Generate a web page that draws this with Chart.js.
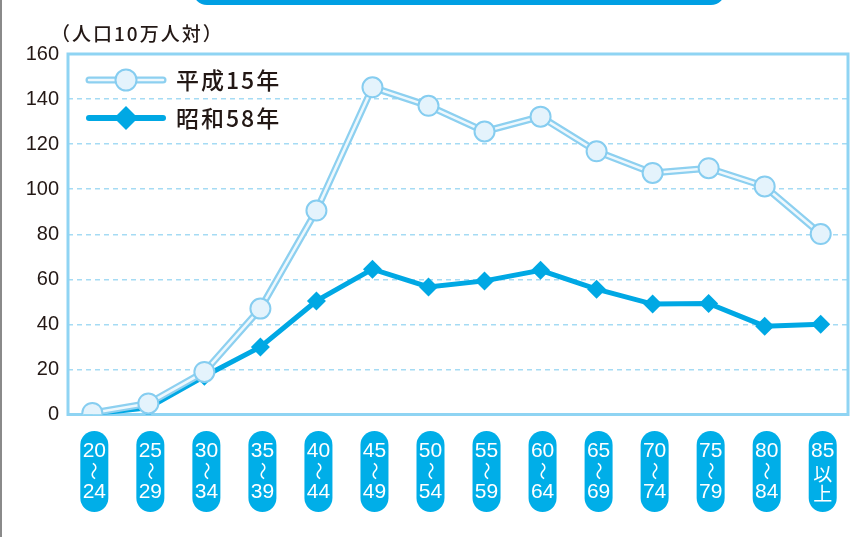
<!DOCTYPE html>
<html><head><meta charset="utf-8">
<script src="https://cdn.jsdelivr.net/npm/chart.js@4.4.1/dist/chart.umd.min.js"></script>
<style>
html,body{margin:0;padding:0;background:#fff;overflow:hidden}
#wrap{position:relative;width:851px;height:537px}
#banner{position:absolute;left:193px;top:-20px;width:532px;height:25px;background:#009fe3;border-radius:0 0 14px 14px}
#edge{position:absolute;left:0;top:0;width:2px;height:537px;background:#8a8a8a}
canvas{position:absolute;left:0;top:0}
</style></head><body>
<div id="wrap"><canvas id="c" width="851" height="537"></canvas><div id="banner"></div><div id="edge"></div></div>
<script>
// ---- data ----
const ageGroups = ['20〜24','25〜29','30〜34','35〜39','40〜44','45〜49','50〜54','55〜59','60〜64','65〜69','70〜74','75〜79','80〜84','85以上'];
const seriesNames = ['平成15年','昭和58年'];
const heisei15 = [0.7, 4.9, 18.9, 47.0, 90.5, 145.2, 137.0, 125.6, 132.2, 116.8, 107.2, 109.3, 101.2, 80.1];
const showa58  = [0.3, 3.0, 17.0, 30.0, 50.4, 64.5, 56.6, 59.3, 64.0, 55.6, 49.0, 49.3, 39.2, 40.1];
const yTicks = [0, 20, 40, 60, 80, 100, 120, 140, 160];
const yTitle = '（人口10万人対）';

const C_H_OUT = '#8dd0f0', C_H_IN = '#eef8fd', C_H_PT = '#e4f3fc', C_H_PTB = '#86cdf0';
const C_S = '#00a8e4', C_PILL = '#00aee8', C_TXT = '#231815';

const pts = arr => arr.map((v, i) => ({x: i, y: v}));

const frame = {
  id: 'frame',
  beforeDatasetsDraw(chart) {
    const {ctx, chartArea: a} = chart;
    ctx.save();
    ctx.strokeStyle = '#8fd4f3';
    ctx.lineWidth = 3;
    ctx.strokeRect(a.left, a.top, a.right - a.left, a.bottom - a.top);
    ctx.restore();
  }
};

function pill(ctx, x, y, w, h, r) {
  ctx.beginPath();
  if (ctx.roundRect) ctx.roundRect(x, y, w, h, r);
  else {
    ctx.moveTo(x + r, y); ctx.arc(x + r, y + r, r, Math.PI, 0);
    ctx.lineTo(x + w, y + h - r); ctx.arc(x + r, y + h - r, r, 0, Math.PI); ctx.closePath();
  }
  ctx.fill();
}

const deco = {
  id: 'deco',
  afterDraw(chart) {
    const {ctx} = chart;
    const xs = chart.scales.x;
    ctx.save();
    // y axis title
    ctx.fillStyle = C_TXT;
    ctx.font = '500 19px "Noto Sans CJK JP"';
    ctx.textBaseline = 'middle';
    ctx.textAlign = 'left';
    if ('letterSpacing' in ctx) ctx.letterSpacing = '2px';
    ctx.fillText(yTitle, 51, 34);
    if ('letterSpacing' in ctx) ctx.letterSpacing = '0px';

    // category pills
    ageGroups.forEach((g, i) => {
      const cx = xs.getPixelForValue(i) + 2;
      ctx.fillStyle = C_PILL;
      pill(ctx, cx - 14, 431, 28, 81, 14);
      ctx.fillStyle = '#fff';
      ctx.textAlign = 'center';
      ctx.textBaseline = 'middle';
      let parts;
      if (g.includes('〜')) parts = [g.split('〜')[0], '〜', g.split('〜')[1]];
      else parts = [g.slice(0, 2), g.slice(2, 3), g.slice(3)];
      ctx.font = '21px "Liberation Sans Narrow", "Liberation Sans"';
      ctx.fillText(parts[0], cx, 451);
      if (parts[1] === '〜') {
        ctx.save();
        ctx.translate(cx, 471);
        ctx.rotate(Math.PI / 2);
        ctx.font = '18px "Noto Sans CJK JP"';
        ctx.fillText('〜', 0, 0);
        ctx.restore();
        ctx.font = '21px "Liberation Sans Narrow", "Liberation Sans"';
        ctx.fillText(parts[2], cx, 492);
      } else {
        ctx.font = '19px "Noto Sans CJK JP"';
        ctx.fillText(parts[1], cx, 474);
        ctx.fillText(parts[2], cx, 494);
      }
    });

    // legend
    const ds = chart.data.datasets;
    ctx.lineCap = 'round';
    ctx.strokeStyle = ds[1].borderColor; ctx.lineWidth = ds[1].borderWidth;
    ctx.beginPath(); ctx.moveTo(89, 80); ctx.lineTo(163, 80); ctx.stroke();
    ctx.strokeStyle = ds[0].borderColor; ctx.lineWidth = ds[0].borderWidth;
    ctx.beginPath(); ctx.moveTo(89, 80); ctx.lineTo(163, 80); ctx.stroke();
    ctx.fillStyle = ds[0].pointBackgroundColor; ctx.strokeStyle = ds[0].pointBorderColor; ctx.lineWidth = 2;
    ctx.beginPath(); ctx.arc(126, 80, 10.5, 0, Math.PI * 2); ctx.fill(); ctx.stroke();
    ctx.strokeStyle = ds[2].borderColor; ctx.lineWidth = 6;
    ctx.beginPath(); ctx.moveTo(89, 118); ctx.lineTo(163, 118); ctx.stroke();
    ctx.fillStyle = ds[2].pointBackgroundColor;
    ctx.beginPath(); ctx.moveTo(126, 106); ctx.lineTo(138, 118); ctx.lineTo(126, 130); ctx.lineTo(114, 118); ctx.closePath(); ctx.fill();
    ctx.fillStyle = C_TXT;
    ctx.font = '500 23px "Noto Sans CJK JP"';
    ctx.textAlign = 'left'; ctx.textBaseline = 'middle';
    if ('letterSpacing' in ctx) ctx.letterSpacing = '2px';
    ctx.fillText(seriesNames[0], 176, 80);
    ctx.fillText(seriesNames[1], 176, 118);
    ctx.restore();
  }
};

new Chart(document.getElementById('c'), {
  type: 'line',
  data: {
    datasets: [
      { label: seriesNames[0], data: pts(heisei15), borderColor: C_H_IN, borderWidth: 2.5,
        pointRadius: 10, pointBackgroundColor: C_H_PT, pointBorderColor: C_H_PTB, pointBorderWidth: 2, tension: 0 },
      { label: seriesNames[0] + '_outline', data: pts(heisei15), borderColor: C_H_OUT, borderWidth: 7,
        pointRadius: 0, tension: 0 },
      { label: seriesNames[1], data: pts(showa58), borderColor: C_S, borderWidth: 5,
        pointStyle: 'rectRot', pointRadius: 9.5, pointBackgroundColor: C_S, pointBorderColor: C_S, pointBorderWidth: 0, tension: 0 }
    ]
  },
  options: {
    responsive: false,
    animation: false,
    events: [],
    layout: { autoPadding: false, padding: { top: 54, right: 3, left: 0, bottom: 0 } },
    plugins: { legend: { display: false }, tooltip: { enabled: false } },
    scales: {
      x: {
        type: 'linear', min: -0.434, max: 13.487,
        grid: { display: false, drawTicks: false },
        border: { display: false },
        ticks: { display: false },
        afterFit(s) { s.height = 122.5; }
      },
      y: {
        min: 0, max: 160,
        afterBuildTicks(s) { s.ticks = yTicks.map(v => ({value: v})); },
        grid: { drawTicks: false, lineWidth: 1.5,
          color: c => (c.tick && (c.tick.value === 0 || c.tick.value === 160)) ? 'rgba(0,0,0,0)' : '#a5dbf4' },
        border: { display: false, dash: [5, 4] },
        ticks: { padding: 9, color: C_TXT, font: { family: '"Liberation Sans"', size: 20 } },
        afterFit(s) { s.width = 68; }
      }
    }
  },
  plugins: [frame, deco]
});
</script>
</body></html>
